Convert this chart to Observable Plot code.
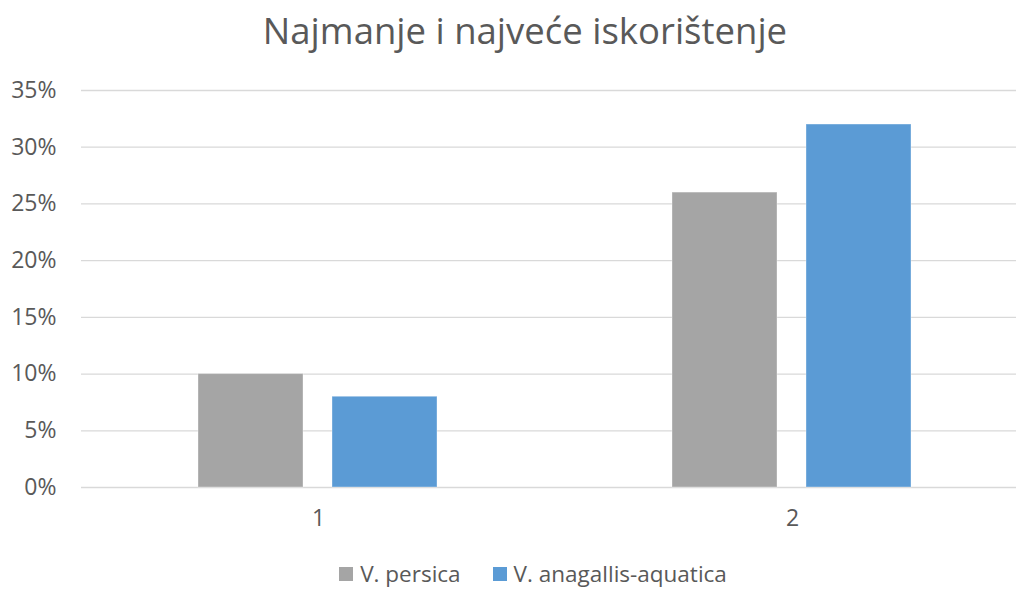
<!DOCTYPE html>
<html>
<head>
<meta charset="utf-8">
<script src="https://cdn.jsdelivr.net/npm/d3@7"></script>
<script src="https://cdn.jsdelivr.net/npm/@observablehq/plot@0.6"></script>
<style>
  html, body { margin: 0; padding: 0; background: #fff; overflow: hidden; }
  #wrap { width: 1016px; height: 590px; font-family: "Open Sans", sans-serif; color: #595959; }
  #title { height: 60px; line-height: 60px; font-size: 36.5px; text-align: center; width: 1050px; color: #595959; white-space: nowrap; }
  #chart { width: 1016px; height: 500px; overflow: hidden; }
  #chart svg { max-width: none !important; display: block; }
  #legend { height: 26px; line-height: 26px; margin-top: 1px; font-size: 22.5px; display: flex; justify-content: center; gap: 32px; width: 1066px; }
  .item { display: flex; align-items: center; gap: 7px; }
  .sw { width: 14px; height: 14px; display: inline-block; }
</style>
</head>
<body>
<div id="wrap">
  <div id="title">Najmanje i najveće iskorištenje</div>
  <div id="chart"></div>
  <div id="legend"></div>
</div>
<script>
const categories = ["1", "2"];
const series = ["V. persica", "V. anagallis-aquatica"];
const persica = [0.10, 0.26];
const anagallis = [0.08, 0.32];
const colors = ["#a5a5a5", "#5b9bd5"];
const yTicks = [0, 0.05, 0.10, 0.15, 0.20, 0.25, 0.30, 0.35];

const data = [];
categories.forEach((c, i) => {
  data.push({cat: c, series: series[0], value: persica[i]});
  data.push({cat: c, series: series[1], value: anagallis[i]});
});

const chart = Plot.plot({
  width: 1029,
  height: 500,
  marginLeft: 81,
  marginRight: 0,
  marginTop: 30,
  marginBottom: 73,
  style: {fontFamily: "Open Sans", fontSize: "23px", color: "#595959", background: "#fff", maxWidth: "none"},
  fx: {domain: categories, padding: 0, label: null, axis: "bottom", tickSize: 0, tickPadding: 22},
  x: {domain: series, paddingInner: 0.215, paddingOuter: 0.867, axis: null},
  y: {domain: [0, 0.35], ticks: yTicks, tickFormat: d => Math.round(d * 100) + "%", label: null, tickSize: 0, tickPadding: 25},
  color: {domain: series, range: colors},
  marks: [
    Plot.gridY(yTicks, {stroke: "#d9d9d9", strokeOpacity: 1, strokeWidth: 1.3}),
    Plot.axisY({ticks: yTicks, tickFormat: d => Math.round(d * 100) + "%", tickSize: 0, tickPadding: 25, label: null, fill: "#595959"}),
    Plot.barY(data, {fx: "cat", x: "series", y: "value", fill: "series", stroke: "#ffffff", strokeOpacity: 0.35, strokeWidth: 1})
  ]
});
document.getElementById("chart").appendChild(chart);

const legend = document.getElementById("legend");
series.forEach((s, i) => {
  const it = document.createElement("div");
  it.className = "item";
  const sw = document.createElement("span");
  sw.className = "sw";
  sw.style.background = colors[i];
  const t = document.createElement("span");
  t.textContent = s;
  it.appendChild(sw);
  it.appendChild(t);
  legend.appendChild(it);
});
</script>
</body>
</html>
